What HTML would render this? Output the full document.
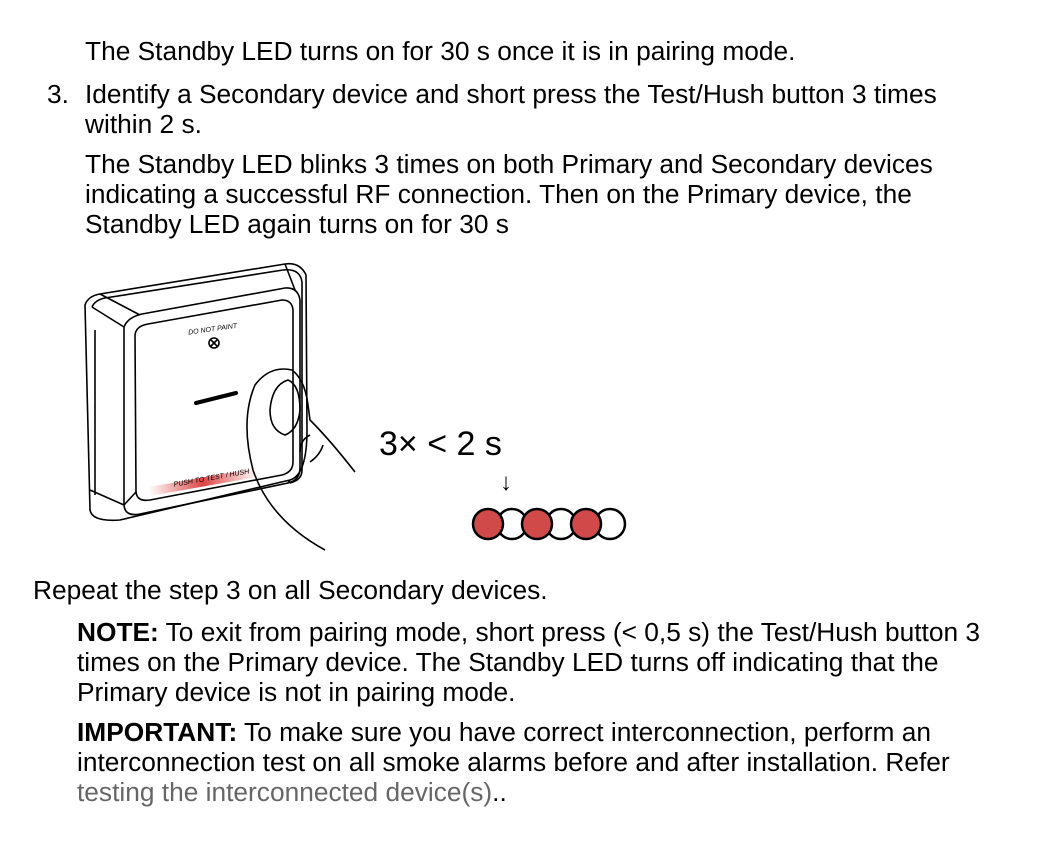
<!DOCTYPE html>
<html><head><meta charset="utf-8"><style>
body{margin:0;background:#fff;width:1056px;height:866px;overflow:hidden;font-family:"Liberation Sans",Arial,sans-serif;color:#000}
.t{position:absolute;font-size:26.3px;line-height:30px;white-space:nowrap}
</style></head><body>
<div class="t" style="left:85px;top:36px">The Standby LED turns on for 30 s once it is in pairing mode.</div>
<div class="t" style="left:47px;top:79px">3.</div>
<div class="t" style="left:85px;top:79px">Identify a Secondary device and short press the Test/Hush button 3 times<br>within 2 s.</div>
<div class="t" style="left:85px;top:149px">The Standby LED blinks 3 times on both Primary and Secondary devices<br>indicating a successful RF connection. Then on the Primary device, the<br>Standby LED again turns on for 30 s</div>
<div class="t" style="left:33px;top:575px">Repeat the step 3 on all Secondary devices.</div>
<div class="t" style="left:77px;top:617px"><b>NOTE:</b> To exit from pairing mode, short press (&lt; 0,5 s) the Test/Hush button 3<br>times on the Primary device. The Standby LED turns off indicating that the<br>Primary device is not in pairing mode.</div>
<div class="t" style="left:77px;top:717px"><b>IMPORTANT:</b> To make sure you have correct interconnection, perform an<br>interconnection test on all smoke alarms before and after installation. Refer<br><span style="color:#666">testing the interconnected device(s)</span>..</div>
<svg style="position:absolute;left:0;top:0" width="1056" height="866" fill="none" stroke="#000" stroke-width="1.6">
<defs><linearGradient id="g" x1="0" x2="1"><stop offset="0" stop-color="#fff"/><stop offset="0.5" stop-color="#d44"/><stop offset="1" stop-color="#fff"/></linearGradient></defs>
<path d="M85 305 Q88 296 100 294 L285 264 Q300 262 306 275 L307 430 Q307 475 290 480 L120 520 Q92 522 90 510 Z"/>
<path d="M92 307 Q95 300 105 298 L283 270 Q300 268 302 282 L302 470 Q302 480 290 483"/>
<path d="M124 327 Q128 317 142 314 L285 288 Q298 287 300 300 L300 468 Q300 480 288 483 L140 514 Q125 517 124 505 Z"/>
<path d="M135 335 Q136 326 148 324 L282 300 Q292 300 293 310 L293 462 Q293 472 282 475 L150 500 Q137 502 136 492 Z"/>
<path d="M92 307 L124 327 M100 294 L140 315 M285 264 L295 290 M290 480 L288 483 M90 490 L124 505 M124 505 L136 492"/>
<path d="M95 330 L95 495"/>
<rect x="148" y="478" width="110" height="9" fill="url(#g)" stroke="none" transform="rotate(-10 200 482)"/>
<line x1="196" y1="403" x2="236" y2="393" stroke-width="4" stroke-linecap="round"/>
<circle cx="214" cy="343" r="5"/><path d="M211 340 L217 346 M217 340 L211 346"/>
<text x="188" y="333" font-size="7" font-style="italic" fill="#000" stroke="none" transform="rotate(-8 200 330)">DO NOT PAINT</text>
<text x="173" y="482" font-size="7" font-style="italic" fill="#000" stroke="none" transform="rotate(-10 200 478)">PUSH TO TEST / HUSH</text>
<path d="M253 470 Q240 420 255 385 Q270 365 292 370 Q305 380 308 405 L310 420 Q330 440 355 472"/>
<path d="M253 470 Q270 520 325 550"/>
<path d="M270 410 Q272 385 288 380 Q300 385 300 410 Q298 430 285 435 Q270 430 270 410Z"/>
<path d="M300 452 Q300 440 310 435 M310 462 Q320 455 323 445"/>
<text x="379" y="455" font-size="34" fill="#000" stroke="none">3× &lt; 2 s</text>
<text x="500" y="490" font-size="24" fill="#000" stroke="none">↓</text>
<g stroke-width="2.5" fill="#fff">
<circle cx="512" cy="524" r="15"/><circle cx="561" cy="524" r="15"/><circle cx="610" cy="524" r="15"/>
<circle cx="488" cy="524" r="15" fill="#d04a4a"/><circle cx="537" cy="524" r="15" fill="#d04a4a"/><circle cx="586" cy="524" r="15" fill="#d04a4a"/>
</g>
</svg>
</body></html>
